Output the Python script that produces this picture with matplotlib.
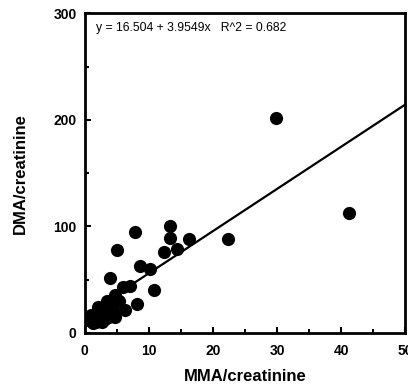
import numpy as np
import matplotlib.pyplot as plt
from matplotlib.ticker import MultipleLocator

# MMA/creatinine vs DMA/creatinine
mma = [29.8, 41.2, 22.4, 16.2, 13.3, 13.3, 12.4, 14.4, 7.8, 5.0,
       8.6, 10.2, 3.9, 10.8, 7.0, 6.0, 4.7, 8.1, 6.3, 4.7,
       0.5, 0.8, 1.0, 1.3, 1.5, 1.8, 2.0, 2.2, 2.5, 2.8,
       3.0, 3.3, 3.6, 4.0, 1.2, 1.7, 2.3, 2.7, 3.2, 3.8,
       4.4, 5.3, 0.9, 2.0, 3.5]
dma = [202, 113, 88, 88, 100, 89, 76, 79, 95, 78,
       63, 60, 52, 40, 44, 43, 36, 27, 22, 15,
       12, 14, 11, 16, 13, 18, 15, 20, 14, 22,
       17, 25, 19, 27, 9, 10, 12, 10, 13, 15,
       22, 30, 17, 24, 30]

intercept, slope = 16.504, 3.9549

plt.rcParams['font.family'] = ['Liberation Sans', 'DejaVu Sans']

fig = plt.figure(figsize=(4.08, 3.89), dpi=100)
ax = fig.add_axes([0.208, 0.144, 0.785, 0.822])

ax.scatter(mma, dma, s=90, color='black', zorder=3, linewidths=0)
xs = np.array([0, 50])
ax.plot(xs, intercept + slope * xs, color='black', lw=1.6, zorder=2)

ax.set_xlim(0, 50)
ax.set_ylim(0, 300)
ax.xaxis.set_major_locator(MultipleLocator(10))
ax.xaxis.set_minor_locator(MultipleLocator(5))
ax.yaxis.set_major_locator(MultipleLocator(100))
ax.yaxis.set_minor_locator(MultipleLocator(50))
ax.tick_params(which='both', direction='in', width=1.5, labelsize=10)
ax.tick_params(which='major', length=4)
ax.tick_params(which='minor', length=3)
ax.tick_params(axis='x', pad=8)
ax.tick_params(axis='y', pad=6)
for lab in ax.get_xticklabels() + ax.get_yticklabels():
    lab.set_fontweight('bold')
for sp in ax.spines.values():
    sp.set_linewidth(2)

ax.set_xlabel('MMA/creatinine', fontsize=12, fontweight='bold', labelpad=8)
ax.set_ylabel('DMA/creatinine', fontsize=12, fontweight='bold', labelpad=18)

ax.text(0.035, 0.955, 'y = 16.504 + 3.9549x   R^2 = 0.682',
        transform=ax.transAxes, fontsize=8.8, va='center')

fig.savefig('out.png', dpi=100)
